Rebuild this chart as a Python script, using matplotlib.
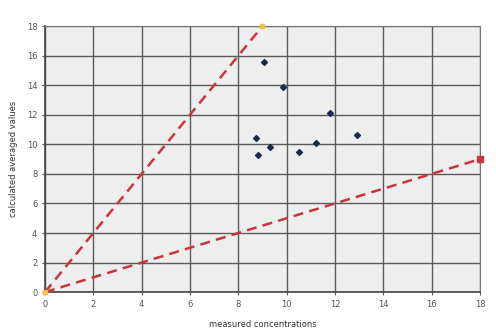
import numpy as np
import matplotlib.pyplot as plt

# measured vs calculated averaged values
measured = [9.05, 9.85, 11.8, 8.75, 12.9, 9.3, 11.2, 8.8, 10.5]
calculated = [15.6, 13.9, 12.1, 10.4, 10.6, 9.8, 10.1, 9.3, 9.5]

# factor-of-two boundary lines
upper_x = [0, 9]
upper_y = [0, 18]
lower_x = [0, 18]
lower_y = [0, 9]

ticks = np.arange(0, 19, 2)

fig = plt.figure(figsize=(4.96, 3.35), dpi=100)
fig.patch.set_facecolor('white')
ax = fig.add_axes([0.0907, 0.128, 0.877, 0.794])
ax.set_facecolor('#eeeeee')

ax.plot(upper_x, upper_y, '--', color='#c9343f', lw=1.8, dashes=(4, 2.5), zorder=3)
ax.plot(lower_x, lower_y, '--', color='#c9343f', lw=1.8, dashes=(4, 2.5), zorder=3)
ax.plot([upper_x[1]], [upper_y[1]], 's', color='#f0c040', ms=3.5, zorder=4, clip_on=False)
ax.plot([0], [0], 's', color='#f0c040', ms=3.5, zorder=4, clip_on=False)
ax.plot([lower_x[1]], [lower_y[1]], 's', color='#c9343f', ms=4, zorder=4, clip_on=False)

ax.scatter(measured, calculated, marker='D', s=9, color='#1a2a4a', zorder=5)

ax.set_xlim(0, 18)
ax.set_ylim(0, 18)
ax.set_xticks(ticks)
ax.set_yticks(ticks)
ax.grid(True, color='#5a5a5a', lw=1.0)
ax.set_axisbelow(True)
for side in ['top', 'right']:
    ax.spines[side].set_color('#777777')
    ax.spines[side].set_linestyle((0, (3, 1)))
    ax.spines[side].set_linewidth(0.8)
for side in ['left', 'bottom']:
    ax.spines[side].set_color('#444444')
    ax.spines[side].set_linewidth(1.2)
ax.tick_params(labelsize=6, colors='#555555', length=2, width=0.8)

ax.set_xlabel('measured concentrations', fontsize=6, color='#333333', labelpad=8)
ax.set_ylabel('calculated averaged values', fontsize=6, color='#333333', labelpad=6)

fig.savefig('out.png', dpi=100)
